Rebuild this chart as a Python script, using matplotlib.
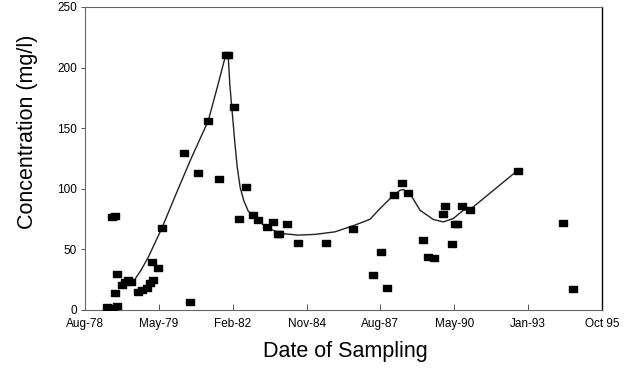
import matplotlib
matplotlib.use('Agg')
from matplotlib import pyplot as plt

plt.rcParams['font.family'] = ['Liberation Sans', 'DejaVu Sans']

# sampling dates (spreadsheet day serial) and concentrations (mg/l)
sample_day = [28294, 28379, 28429, 28406, 28429, 28366, 28406, 28542, 28586, 28623,
              28497, 28722, 28768, 28835, 28880, 28925, 28903, 28992, 29038, 29340,
              29422, 29534, 29669, 29814, 29905, 29940, 30017, 30089, 30176, 30279,
              30346, 30460, 30549, 30609, 30627, 30731, 30888, 31259, 31633, 31904,
              32004, 32093, 32188, 32296, 32378, 32581, 32648, 32726, 32851, 32874,
              32965, 33010, 33032, 33100, 33213, 33858, 34476, 34612]
sample_conc = [2.7, 1.6, 3.3, 13.7, 29.6, 76.5, 77.7, 23.3, 24.7, 23.0,
               20.6, 15.0, 16.4, 18.0, 22.0, 24.7, 39.7, 34.3, 67.2, 129.7,
               6.3, 113.2, 156.3, 108.3, 210.5, 210.5, 167.8, 75.4, 101.4, 78.0,
               74.0, 68.5, 72.6, 63.0, 62.5, 70.5, 54.8, 54.8, 66.4, 28.8,
               47.4, 18.4, 95.0, 105.0, 96.5, 57.6, 43.8, 42.5, 79.5, 85.8,
               54.0, 70.7, 70.5, 85.5, 82.8, 115.0, 71.8, 17.3]

# smoothed trend
trend_day = [28654, 28760, 28860, 29038, 29219, 29422, 29669, 29800, 29905, 29940,
             29960, 29990, 30025, 30060, 30100, 30150, 30210, 30300, 30482, 30663,
             30888, 31114, 31385, 31656, 31859, 31994, 32153, 32265, 32310, 32400,
             32536, 32716, 32851, 32987, 33122, 33213, 33858]
trend_conc = [23.3, 33.0, 44.0, 67.2, 93.8, 123.0, 156.3, 186.0, 210.5, 208.0,
              186.0, 165.0, 140.0, 118.0, 101.0, 90.0, 81.5, 75.5, 67.2, 63.0,
              61.7, 62.3, 64.4, 70.0, 74.8, 83.6, 93.2, 98.7, 99.3, 96.0,
              82.2, 74.6, 72.6, 75.4, 82.2, 82.8, 115.1]

tick_days = [28000, 29000, 30000, 31000, 32000, 33000, 34000, 35000]
tick_labels = ['Aug-78', 'May-79', 'Feb-82', 'Nov-84', 'Aug-87', 'May-90', 'Jan-93', 'Oct 95']
y_ticks = [0, 50, 100, 150, 200, 250]

# wide, flat square marker like the scanned original
box = [(-1, -0.7), (1, -0.7), (1, 0.7), (-1, 0.7), (-1, -0.7)]

fig = plt.figure(figsize=(6.35, 3.68), dpi=100)
ax = fig.add_axes([0.134, 0.158, 0.814, 0.823])

ax.plot(trend_day, trend_conc, color='#222222', linewidth=1.0, zorder=2)
ax.plot(sample_day, sample_conc, linestyle='none', marker=box, markersize=5.5,
        color='black', zorder=3)

ax.set_xlim(28000, 35000)
ax.set_ylim(0, 250)
ax.set_xticks(tick_days)
ax.set_xticklabels(tick_labels)
ax.set_yticks(y_ticks)

ax.tick_params(axis='x', direction='in', length=4, width=0.7, labelsize=8.5, pad=6, color='#555555')
ax.tick_params(axis='y', direction='out', length=3, width=0.7, labelsize=8.5, pad=3, color='#555555')
for side in ['left', 'bottom', 'top']:
    ax.spines[side].set_color('#666666')
    ax.spines[side].set_linewidth(0.8)
ax.spines['right'].set_color('black')
ax.spines['right'].set_linewidth(1.0)

ax.set_xlabel('Date of Sampling', fontsize=15.5)
ax.set_ylabel('Concentration (mg/l)', fontsize=15.5)
ax.xaxis.set_label_coords(0.503, -0.102)
ax.yaxis.set_label_coords(-0.091, 0.587)

fig.savefig('out.png', dpi=100)
